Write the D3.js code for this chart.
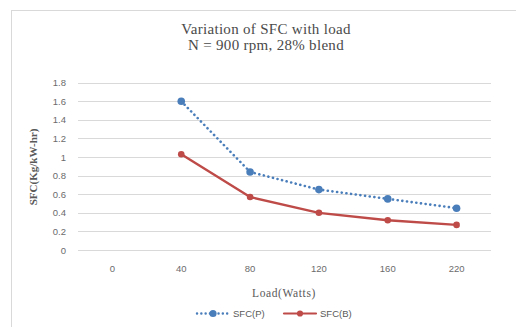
<!DOCTYPE html>
<html>
<head>
<meta charset="utf-8">
<script src="https://cdn.jsdelivr.net/npm/d3@7"></script>
<style>
  html, body { margin: 0; padding: 0; background: #fff; }
  svg { display: block; }
</style>
</head>
<body>
<svg id="chart" width="516" height="327"></svg>
<script>
// Load categories (Watts) and specific fuel consumption series
const loads = ["0", "40", "80", "120", "160", "220"];
const sfcP = [null, 1.6, 0.84, 0.65, 0.55, 0.45];
const sfcB = [null, 1.03, 0.57, 0.40, 0.32, 0.27];
const yTicks = [0, 0.2, 0.4, 0.6, 0.8, 1, 1.2, 1.4, 1.6, 1.8];

const svg = d3.select("#chart");
const W = 516, H = 327;
const plot = { left: 78, right: 491, top: 82.7, bottom: 250 };

// Chart area border
svg.append("rect")
  .attr("x", 11.5).attr("y", 10.5)
  .attr("width", W).attr("height", H)
  .attr("fill", "#fff")
  .attr("stroke", "#d9d9d9").attr("stroke-width", 1);

const x = d3.scaleBand().domain(loads).range([plot.left, plot.right]);
const y = d3.scaleLinear().domain([0, 1.8]).range([plot.bottom, plot.top]);

// Horizontal gridlines
svg.append("g")
  .selectAll("line")
  .data(yTicks)
  .join("line")
  .attr("x1", plot.left).attr("x2", plot.right)
  .attr("y1", d => Math.round(y(d)) + 0.5).attr("y2", d => Math.round(y(d)) + 0.5)
  .attr("stroke", "#d9d9d9").attr("stroke-width", 1);

// Y axis labels
const yAxis = d3.axisLeft(y).tickValues(yTicks).tickSize(0).tickPadding(12)
  .tickFormat(d => d3.format("")(d));
svg.append("g")
  .attr("transform", `translate(${plot.left},0)`)
  .call(yAxis)
  .call(g => g.select(".domain").remove())
  .call(g => g.selectAll("text")
    .attr("fill", "#6b6b6b")
    .style("font-family", "'Liberation Sans', Arial, sans-serif")
    .style("font-size", "9.5px"));

// X axis labels
const xAxis = d3.axisBottom(x).tickSize(0).tickPadding(15);
svg.append("g")
  .attr("transform", `translate(0,${plot.bottom})`)
  .call(xAxis)
  .call(g => g.select(".domain").remove())
  .call(g => g.selectAll("text")
    .attr("fill", "#6b6b6b")
    .style("font-family", "'Liberation Sans', Arial, sans-serif")
    .style("font-size", "9.5px"));

const cx = d => x(d) + x.bandwidth() / 2;

function drawSeries(values, color, dotted, r) {
  const pts = loads.map((l, i) => ({ l, v: values[i] })).filter(p => p.v != null);
  const line = d3.line().x(p => cx(p.l)).y(p => y(p.v));
  const path = svg.append("path")
    .datum(pts)
    .attr("d", line)
    .attr("fill", "none")
    .attr("stroke", color)
    .attr("stroke-linejoin", "round");
  if (dotted) {
    path.attr("stroke-width", 2.6).attr("stroke-linecap", "round")
      .attr("stroke-dasharray", "0.1,4.6");
  } else {
    path.attr("stroke-width", 2.4).attr("stroke-linecap", "round");
  }
  svg.append("g").selectAll("circle")
    .data(pts)
    .join("circle")
    .attr("cx", p => cx(p.l)).attr("cy", p => y(p.v))
    .attr("r", r).attr("fill", color);
}

drawSeries(sfcP, "#4a7ebb", true, 3.8);
drawSeries(sfcB, "#be4b48", false, 3.3);

// Titles
const serif = "'Liberation Serif', 'Times New Roman', serif";
const title = svg.append("text")
  .attr("x", 266).attr("y", 34)
  .attr("text-anchor", "middle")
  .attr("fill", "#4a4a4a")
  .style("font-family", serif).style("font-size", "15px")
  .style("letter-spacing", "0.3px");
title.append("tspan").attr("x", 266).text("Variation of SFC with load");
title.append("tspan").attr("x", 266).attr("dy", 16).text("N = 900 rpm, 28% blend");

svg.append("text")
  .attr("transform", "translate(37,167) rotate(-90)")
  .attr("text-anchor", "middle")
  .attr("fill", "#595959")
  .style("font-family", serif).style("font-size", "11px").style("font-weight", "bold")
  .text("SFC(Kg/kW-hr)");

svg.append("text")
  .attr("x", 284).attr("y", 297)
  .attr("text-anchor", "middle")
  .attr("fill", "#595959")
  .style("font-family", serif).style("font-size", "11.5px")
  .style("letter-spacing", "0.6px")
  .text("Load(Watts)");

// Legend
const legend = [
  { name: "SFC(P)", color: "#4a7ebb", dotted: true, r: 3.6, x: 197 },
  { name: "SFC(B)", color: "#be4b48", dotted: false, r: 3.1, x: 284 }
];
const lg = svg.append("g");
legend.forEach(item => {
  const ly = 313.5;
  const seg = lg.append("line")
    .attr("x1", item.x).attr("x2", item.x + 32)
    .attr("y1", ly).attr("y2", ly)
    .attr("stroke", item.color).attr("stroke-linecap", "round");
  if (item.dotted) seg.attr("stroke-width", 2.4).attr("stroke-dasharray", "0.1,4.2");
  else seg.attr("stroke-width", 2.2);
  lg.append("circle").attr("cx", item.x + 16).attr("cy", ly).attr("r", item.r).attr("fill", item.color);
  lg.append("text")
    .attr("x", item.x + 36).attr("y", ly + 3.3)
    .attr("fill", "#595959")
    .style("font-family", "'Liberation Sans', Arial, sans-serif")
    .style("font-size", "9.5px")
    .text(item.name);
});
</script>
</body>
</html>
